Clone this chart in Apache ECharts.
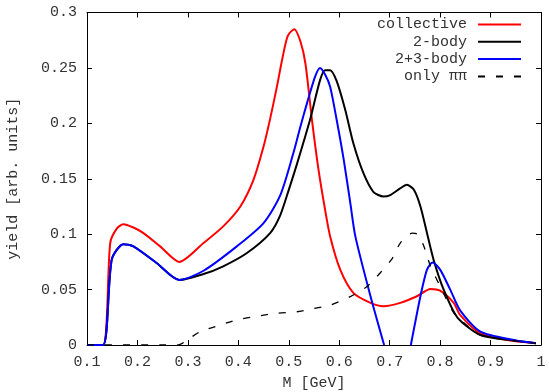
<!DOCTYPE html>
<html>
<head>
<meta charset="utf-8">
<script src="https://cdn.jsdelivr.net/npm/echarts@6/dist/echarts.min.js"></script>
<style>html,body{margin:0;padding:0;background:#fff}#c{width:549px;height:392px}</style>
</head>
<body>
<div id="c"></div>
<script>
var seriesNames = ['collective', '2-body', '2+3-body', 'only \u03c0\u03c0'];
var xTicks = [0.1, 0.2, 0.3, 0.4, 0.5, 0.6, 0.7, 0.8, 0.9, 1];
var yTicks = [0, 0.05, 0.1, 0.15, 0.2, 0.25, 0.3];

var collective = [
  [0.10, 0], [0.132, 0], [0.146, 0.092], [0.159, 0.105], [0.172, 0.109], [0.192, 0.106],
  [0.212, 0.101], [0.245, 0.089], [0.283, 0.075], [0.331, 0.092], [0.370, 0.107],
  [0.404, 0.125], [0.430, 0.149], [0.450, 0.179], [0.463, 0.204], [0.476, 0.232],
  [0.488, 0.260], [0.498, 0.279], [0.511, 0.285], [0.523, 0.274], [0.533, 0.254],
  [0.546, 0.203], [0.559, 0.158], [0.572, 0.122], [0.582, 0.098], [0.602, 0.068],
  [0.628, 0.047], [0.662, 0.038], [0.688, 0.035], [0.721, 0.038], [0.754, 0.044],
  [0.781, 0.0506], [0.800, 0.049], [0.827, 0.038], [0.84, 0.027], [0.88, 0.0105],
  [0.933, 0.0045], [0.99, 0.0015]
];
var twoBody = [
  [0.10, 0], [0.132, 0], [0.149, 0.077], [0.172, 0.091], [0.192, 0.089], [0.238, 0.074],
  [0.283, 0.0587], [0.331, 0.064], [0.37, 0.071], [0.417, 0.083], [0.463, 0.101],
  [0.483, 0.117], [0.50, 0.140], [0.516, 0.163], [0.542, 0.203],
  [0.562, 0.239], [0.572, 0.248], [0.582, 0.248], [0.595, 0.238], [0.612, 0.212],
  [0.628, 0.182], [0.648, 0.155], [0.668, 0.138], [0.688, 0.134], [0.70, 0.135],
  [0.72, 0.141], [0.734, 0.1445], [0.748, 0.140], [0.761, 0.125], [0.774, 0.101],
  [0.787, 0.077], [0.807, 0.050], [0.834, 0.025], [0.88, 0.009], [0.946, 0.004], [0.99, 0.0015]
];
var twoThreeBody = [
  [0.10, 0], [0.132, 0], [0.149, 0.077], [0.172, 0.091], [0.192, 0.089], [0.238, 0.074],
  [0.283, 0.0587], [0.331, 0.067], [0.397, 0.089], [0.450, 0.110], [0.483, 0.135],
  [0.509, 0.173], [0.523, 0.197], [0.536, 0.218], [0.552, 0.242], [0.562, 0.250],
  [0.572, 0.244], [0.582, 0.233], [0.595, 0.203], [0.609, 0.167], [0.622, 0.128],
  [0.632, 0.098], [0.662, 0.044], [0.689, 0], [0.715, null], [0.742, 0], [0.761, 0.044],
  [0.774, 0.068], [0.785, 0.0744], [0.800, 0.068], [0.820, 0.050], [0.840, 0.031],
  [0.88, 0.012], [0.946, 0.0045], [0.99, 0.0015]
];
var onlyPiPi = [
  [0.10, 0], [0.28, 0], [0.294, 0.003], [0.324, 0.012], [0.364, 0.018], [0.397, 0.0226],
  [0.437, 0.026], [0.476, 0.0286], [0.516, 0.030], [0.549, 0.033], [0.582, 0.036],
  [0.622, 0.0436], [0.655, 0.0527], [0.681, 0.065], [0.705, 0.078], [0.721, 0.092],
  [0.745, 0.101], [0.755, 0.100], [0.767, 0.090], [0.781, 0.071], [0.800, 0.053],
  [0.827, 0.029], [0.85, 0.019], [0.88, 0.009], [0.946, 0.004], [0.99, 0.0015]
];

var FONT = 'Liberation Mono';
var TXT = '#333';
var chart = echarts.init(document.getElementById('c'));

function mkSeries(name, data, color, width, type) {
  return {
    name: name, type: 'line', data: data, xAxisIndex: 0, yAxisIndex: 0,
    showSymbol: false, symbol: 'none', connectNulls: false, animation: false,
    smooth: 0.25,
    lineStyle: { color: color, width: width, type: type },
    itemStyle: { color: color }
  };
}

var tickCommon = { show: true, inside: true, length: 5, lineStyle: { color: '#000', width: 1 } };
var lineCommon = { show: true, onZero: false, lineStyle: { color: '#000', width: 1 } };

chart.setOption({
  animation: false,
  backgroundColor: '#fff',
  grid: { left: 87, right: 8, top: 12.5, bottom: 47, containLabel: false, outerBoundsMode: 'none' },
  legend: {
    data: seriesNames,
    orient: 'vertical', align: 'right',
    right: 27, top: 17, padding: 0,
    itemWidth: 43, itemHeight: 14, itemGap: 2.3,
    itemStyle: { opacity: 0 },
    textStyle: { fontFamily: FONT, fontSize: 15, color: TXT, lineHeight: 14, padding: [0, 6, 0, 0] }
  },
  xAxis: [{
    type: 'value', min: xTicks[0], max: xTicks[xTicks.length - 1], interval: 0.1,
    name: 'M [GeV]', nameLocation: 'middle', nameGap: 31,
    nameTextStyle: { fontFamily: FONT, fontSize: 15, color: TXT },
    axisLine: lineCommon, axisTick: tickCommon, splitLine: { show: false },
    axisLabel: { fontFamily: FONT, fontSize: 15, color: TXT, margin: 10,
      formatter: function (v) { return String(+v.toFixed(2)); } }
  }, {
    type: 'value', position: 'top', min: xTicks[0], max: xTicks[xTicks.length - 1], interval: 0.1,
    axisLine: lineCommon, axisTick: tickCommon, axisLabel: { show: false }, splitLine: { show: false }
  }],
  yAxis: [{
    type: 'value', min: yTicks[0], max: yTicks[yTicks.length - 1], interval: 0.05,
    name: 'yield [arb. units]', nameLocation: 'middle', nameGap: 66,
    nameTextStyle: { fontFamily: FONT, fontSize: 15, color: TXT },
    axisLine: lineCommon, axisTick: tickCommon, splitLine: { show: false },
    axisLabel: { fontFamily: FONT, fontSize: 15, color: TXT, margin: 10,
      formatter: function (v) { return String(+v.toFixed(2)); } }
  }, {
    type: 'value', position: 'right', min: yTicks[0], max: yTicks[yTicks.length - 1], interval: 0.05,
    axisLine: lineCommon, axisTick: tickCommon, axisLabel: { show: false }, splitLine: { show: false }
  }],
  series: [
    mkSeries(seriesNames[0], collective, '#ff0000', 2, 'solid'),
    mkSeries(seriesNames[1], twoBody, '#000000', 2, 'solid'),
    mkSeries(seriesNames[2], twoThreeBody, '#0000ff', 2, 'solid'),
    mkSeries(seriesNames[3], onlyPiPi, '#000000', 1.3, [7, 11])
  ]
});
</script>
</body>
</html>
